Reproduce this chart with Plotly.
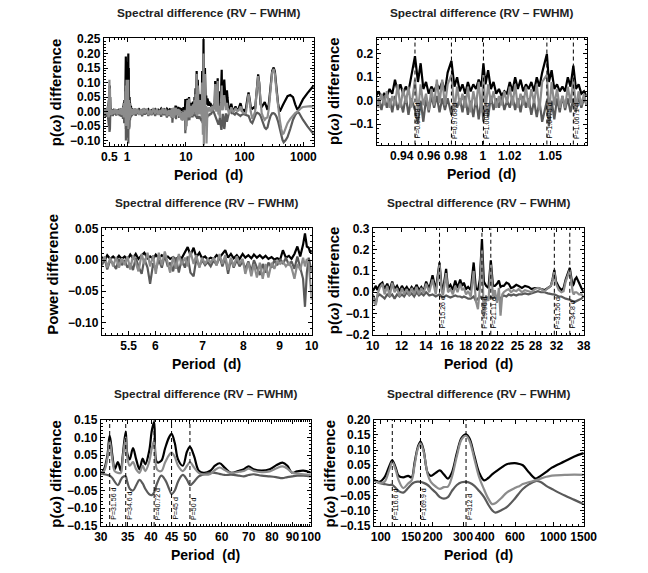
import numpy as np
import plotly.graph_objects as go

W, H = 648, 573
FONT = "Liberation Sans, Arial, sans-serif"
BLACK, DARK, GRAY = "#000000", "#5a5a5a", "#8c8c8c"

# ---------------- data ----------------
# top-right panel: zoom around 1 d (linear axis)
p2_period = [0.921, 0.923, 0.925, 0.927, 0.929, 0.931, 0.933, 0.935, 0.937, 0.939,
             0.941, 0.943, 0.945, 0.947, 0.9498, 0.952, 0.954, 0.956, 0.958, 0.960,
             0.962, 0.964, 0.966, 0.968, 0.970, 0.972, 0.974, 0.9768, 0.979, 0.981,
             0.983, 0.985, 0.987, 0.989, 0.991, 0.993, 0.995, 0.997, 0.999, 1.0005,
             1.002, 1.004, 1.006, 1.008, 1.010, 1.012, 1.014, 1.016, 1.018, 1.020,
             1.022, 1.024, 1.026, 1.028, 1.030, 1.032, 1.034, 1.036, 1.038, 1.040,
             1.042, 1.044, 1.0475, 1.049, 1.051, 1.053, 1.055, 1.057, 1.059, 1.061,
             1.063, 1.065, 1.0671, 1.069, 1.071, 1.073, 1.075, 1.077]
p2_black = [0.02, 0.04, 0.01, 0.03, 0.02, 0.05, 0.03, 0.09, 0.04, 0.07,
            0.03, 0.06, 0.04, 0.10, 0.19, 0.08, 0.16, 0.05, 0.08, 0.03,
            0.06, 0.04, 0.07, 0.05, 0.08, 0.04, 0.12, 0.17, 0.06, 0.10,
            0.04, 0.07, 0.03, 0.08, 0.04, 0.07, 0.05, 0.09, 0.06, 0.16,
            0.07, 0.13, 0.05, 0.08, 0.03, 0.05, 0.02, 0.04, 0.03, 0.08,
            0.04, 0.10, 0.05, 0.09, 0.04, 0.07, 0.05, 0.08, 0.04, 0.10,
            0.06, 0.12, 0.20, 0.08, 0.13, 0.05, 0.07, 0.04, 0.06, 0.04,
            0.10, 0.06, 0.15, 0.05, 0.07, 0.03, 0.04, 0.02]
p2_gray = [0.02, -0.03, 0.03, -0.02, 0.04, -0.03, 0.02, -0.02, 0.07, -0.03,
           0.05, -0.01, 0.06, -0.03, 0.09, -0.05, 0.07, -0.02, 0.03, -0.04,
           0.05, -0.02, 0.09, -0.01, 0.09, -0.02, 0.07, 0.11, -0.04, 0.06,
           -0.02, 0.03, -0.03, 0.06, -0.05, 0.04, -0.02, 0.08, -0.05, 0.11,
           -0.04, 0.07, -0.01, 0.04, -0.03, 0.02, -0.02, 0.04, -0.01, 0.06,
           -0.02, 0.07, -0.03, 0.03, -0.02, 0.06, -0.03, 0.05, -0.01, 0.07,
           -0.04, 0.08, 0.11, -0.06, 0.08, -0.02, 0.05, -0.03, 0.02, -0.03,
           0.06, -0.01, 0.09, -0.03, 0.04, -0.02, 0.03, -0.02]
p2_dark = [-0.03, 0.01, -0.04, 0.02, -0.03, 0.01, -0.05, 0.02, -0.04, 0.00,
           -0.05, 0.02, -0.06, 0.01, -0.04, -0.10, 0.00, -0.09, 0.01, -0.05,
           0.02, -0.03, 0.02, -0.05, 0.01, -0.04, 0.01, -0.06, 0.00, -0.03,
           0.01, -0.05, 0.02, -0.06, 0.00, -0.07, 0.01, -0.08, 0.01, -0.09,
           0.00, -0.07, 0.02, -0.04, 0.01, -0.03, 0.02, -0.04, 0.00, -0.03,
           0.02, -0.04, 0.01, -0.05, 0.02, -0.03, 0.01, -0.06, 0.00, -0.07,
           0.00, -0.09, 0.00, -0.11, 0.00, -0.08, 0.01, -0.05, 0.02, -0.04,
           0.01, -0.05, 0.01, -0.05, 0.02, -0.03, 0.01, -0.02]
p2_marks = [0.9498, 0.9768, 1.0005, 1.0475, 1.0671]
p2_mark_text = ["P=0.9498 d", "P=0.9768 d", "P=1.0005 d", "P=1.0475 d", "P=1.0671 d"]

# middle-left panel: 5-10 d
p3_period = [5.04, 5.09, 5.13, 5.18, 5.23, 5.28, 5.33, 5.38, 5.43, 5.48,
             5.53, 5.58, 5.63, 5.68, 5.74, 5.79, 5.85, 5.90, 5.96, 6.01,
             6.07, 6.13, 6.19, 6.25, 6.30, 6.36, 6.42, 6.48, 6.54, 6.61,
             6.67, 6.73, 6.80, 6.86, 6.93, 6.99, 7.06, 7.12, 7.19, 7.26,
             7.33, 7.40, 7.47, 7.54, 7.61, 7.68, 7.75, 7.83, 7.90, 7.98,
             8.05, 8.13, 8.21, 8.28, 8.36, 8.44, 8.52, 8.60, 8.68, 8.77,
             8.85, 8.93, 9.02, 9.10, 9.19, 9.28, 9.36, 9.45, 9.54, 9.63,
             9.72, 9.78, 9.84, 9.90, 9.95, 10.0]
p3_black = [0.005, 0.000, 0.008, 0.002, 0.006, 0.001, 0.007, 0.002, 0.006, 0.001,
            0.009, 0.003, 0.010, 0.002, 0.008, 0.012, 0.003, 0.006, 0.002, 0.009,
            0.003, 0.008, 0.004, 0.006, 0.002, 0.005, 0.001, 0.006, 0.003, 0.012,
            0.021, 0.008, 0.020, 0.005, 0.012, 0.003, 0.006, 0.001, 0.004, 0.002,
            0.008, 0.004, 0.011, 0.016, 0.004, 0.010, 0.003, 0.008, 0.002, 0.010,
            0.004, 0.008, 0.003, 0.009, 0.004, 0.008, 0.003, 0.007, 0.002, 0.005,
            0.001, 0.003, 0.001, 0.016, 0.004, 0.007, 0.002, 0.010, 0.022, 0.006,
            0.025, 0.043, 0.022, 0.020, 0.012, 0.016]
p3_gray = [-0.003, 0.006, -0.012, 0.004, -0.010, 0.005, -0.012, 0.003, -0.008, 0.006,
           -0.015, 0.008, -0.004, -0.018, 0.010, -0.006, 0.012, -0.010, 0.008, -0.022,
           0.012, -0.008, 0.014, -0.004, -0.020, 0.006, -0.014, 0.010, -0.008, 0.004,
           -0.010, 0.014, -0.006, 0.008, -0.012, 0.004, -0.006, 0.002, -0.004, 0.004,
           -0.008, 0.010, -0.006, 0.008, -0.016, 0.004, -0.010, 0.006, -0.006, 0.002,
           -0.022, -0.004, -0.026, -0.006, -0.028, -0.004, -0.030, -0.006, -0.028, -0.004,
           -0.014, -0.002, -0.006, -0.002, -0.010, -0.004, -0.012, -0.030, -0.006, -0.016,
           0.004, -0.010, 0.002, -0.006, -0.030, -0.064]
p3_dark = [-0.008, 0.002, -0.015, 0.000, -0.006, -0.014, 0.002, -0.008, 0.000, -0.012,
           -0.005, -0.016, 0.004, -0.010, -0.022, 0.002, -0.012, -0.038, -0.005, -0.015,
           0.000, -0.012, 0.008, -0.010, -0.004, -0.018, 0.004, -0.020, 0.002, -0.012,
           0.006, -0.020, -0.026, 0.002, -0.010, 0.000, -0.008, -0.003, -0.010, 0.000,
           -0.008, 0.006, -0.010, 0.004, -0.022, 0.002, -0.012, 0.000, -0.010, -0.002,
           -0.014, -0.002, -0.018, 0.000, -0.012, -0.024, -0.006, -0.020, -0.004, -0.012,
           0.000, -0.008, 0.002, -0.006, 0.004, -0.008, -0.002, -0.014, 0.006, -0.010,
           -0.030, -0.075, -0.020, 0.004, -0.010, -0.020]

# middle-right panel: 10-38 d
p4_period = [10.0, 10.1, 10.2, 10.3, 10.45, 10.63, 10.78, 10.96, 11.13, 11.31,
             11.48, 11.66, 11.85, 12.03, 12.2, 12.4, 12.6, 12.79, 13.0, 13.19,
             13.4, 13.6, 13.8, 14.02, 14.3, 14.6, 14.9, 15.26, 15.45, 15.6,
             15.91, 16.1, 16.35, 16.6, 16.86, 17.1, 17.39, 17.6, 17.8, 18.05,
             18.29, 18.6, 18.94, 19.2, 19.46, 19.7, 19.96, 20.2, 20.49, 20.8,
             21.11, 21.4, 21.66, 21.95, 22.22, 22.45, 22.7, 22.92, 23.3, 23.64,
             24.0, 24.39, 24.8, 25.18, 25.7, 26.21, 26.8, 27.31, 27.9, 28.45,
             29.0, 29.65, 30.3, 30.88, 31.2, 31.56, 31.9, 32.46, 33.0, 33.46,
             33.9, 34.8, 35.2, 35.45, 35.7, 35.95, 36.31, 36.9, 37.46, 38.0]
p4_black = [0.005, 0.015, 0.030, 0.010, 0.035, 0.045, 0.015, 0.040, 0.010, 0.050,
            0.015, 0.030, 0.005, 0.030, 0.010, 0.025, 0.005, 0.025, 0.010, 0.035,
            0.010, 0.025, 0.005, 0.050, 0.015, 0.080, 0.010, 0.140, 0.030, 0.010,
            0.110, 0.020, 0.035, 0.010, 0.055, 0.020, 0.060, 0.030, 0.045, 0.015,
            0.025, 0.010, 0.140, 0.020, 0.010, 0.060, 0.250, 0.050, 0.030, 0.020,
            0.150, 0.030, 0.030, 0.040, 0.055, 0.025, 0.030, 0.030, 0.045, 0.040,
            0.020, 0.025, 0.035, 0.030, 0.020, 0.030, 0.025, 0.015, 0.020, 0.020,
            0.015, 0.010, 0.020, 0.030, 0.060, 0.105, 0.050, 0.025, 0.010, 0.020,
            0.060, 0.115, 0.060, 0.030, 0.040, 0.060, 0.070, 0.040, 0.020, 0.000]
p4_gray = [-0.02, -0.05, -0.06, -0.01, 0.02, 0.04, -0.01, 0.03, -0.02, 0.045,
           0.00, 0.02, -0.02, 0.02, -0.01, 0.015, -0.015, 0.02, -0.01, 0.025,
           -0.01, 0.02, -0.005, 0.04, 0.00, 0.06, -0.01, 0.13, 0.01, -0.015,
           0.09, 0.00, 0.015, -0.01, 0.03, 0.00, 0.04, 0.01, 0.02, -0.01,
           0.005, -0.02, 0.10, -0.04, -0.08, 0.02, 0.20, -0.12, -0.03, -0.04,
           0.13, -0.02, 0.01, -0.05, 0.02, -0.11, -0.01, 0.00, 0.01, 0.015,
           0.00, 0.01, 0.005, 0.015, 0.00, 0.01, 0.005, 0.00, 0.015, 0.02,
           0.015, 0.005, 0.02, 0.03, 0.055, 0.095, 0.04, 0.01, 0.00, 0.005,
           0.05, 0.105, 0.04, 0.00, -0.01, 0.00, 0.00, -0.01, -0.01, -0.02]
p4_dark = [-0.01, -0.03, -0.05, -0.02, -0.01, -0.02, -0.03, -0.01, -0.02, -0.01,
           -0.03, -0.01, -0.02, -0.01, -0.02, 0.00, -0.015, -0.005, -0.02, 0.00,
           -0.015, -0.005, -0.015, 0.00, -0.015, -0.01, -0.02, -0.01, -0.02, -0.025,
           -0.015, -0.02, -0.025, -0.02, -0.015, -0.02, -0.02, -0.025, -0.02, -0.025,
           -0.03, -0.03, -0.02, -0.04, -0.03, -0.02, -0.03, -0.04, -0.02, -0.03,
           -0.02, -0.03, -0.02, -0.03, -0.02, -0.03, -0.02, -0.015, -0.02, -0.01,
           -0.015, -0.01, -0.015, -0.01, -0.01, -0.005, -0.01, -0.005, 0.00, 0.005,
           0.00, 0.00, -0.005, -0.01, -0.01, -0.01, -0.015, -0.02, -0.02, -0.025,
           -0.03, -0.035, -0.04, -0.045, -0.045, -0.045, -0.04, -0.035, -0.03, -0.02]
p4_marks = [15.26, 19.96, 21.11, 31.56, 34.8]
p4_mark_text = ["P=15.26 d", "P=19.96 d", "P=21.11 d", "P=31.56 d", "P=34.8 d"]

# bottom-left panel: 30-100 d
p5_period = [30.0, 30.56, 31.13, 31.56, 32.06, 32.48, 33.08, 33.63, 34.0, 34.6,
             34.9, 35.4, 36.07, 36.74, 37.43, 38.13, 38.7, 39.56, 40.2, 40.72,
             41.4, 42.43, 43.38, 44.36, 45.0, 45.84, 46.7, 48.0, 49.17, 50.0,
             51.2, 52.6, 54.1, 56.2, 57.7, 59.3, 61.0, 63.3, 66.3, 68.1,
             70.0, 72.0, 75.4, 79.0, 81.9, 85.0, 87.4, 89.8, 92.4, 95.8, 100.0]
p5_black = [-0.003, 0.01, 0.047, 0.105, 0.047, 0.01, 0.03, 0.006, 0.047, 0.116,
            0.055, 0.038, 0.07, 0.038, 0.01, 0.04, 0.024, 0.06, 0.12, 0.144,
            0.03, 0.034, 0.07, 0.10, 0.11, 0.084, 0.038, 0.02, 0.06, 0.073,
            0.047, 0.006, 0.0, 0.006, 0.02, 0.027, 0.015, 0.0, 0.006, 0.01,
            0.018, 0.01, 0.006, 0.01, 0.021, 0.029, 0.02, 0.0, 0.004, 0.006, 0.001]
p5_gray = [0.0, 0.005, 0.04, 0.09, 0.035, 0.005, 0.0, 0.0, 0.04, 0.10,
           0.045, 0.02, 0.03, 0.01, 0.0, 0.02, 0.005, 0.03, 0.07, 0.09,
           0.01, 0.005, 0.03, 0.05, 0.057, 0.045, 0.02, 0.005, 0.02, 0.03,
           0.015, 0.0, -0.005, -0.003, 0.008, 0.015, 0.008, 0.0, 0.003, 0.005,
           0.012, 0.006, 0.002, 0.004, 0.012, 0.018, 0.012, 0.0, -0.002, -0.004, -0.006]
p5_dark = [-0.002, -0.004, -0.006, -0.008, -0.015, -0.025, -0.035, -0.02, -0.012, -0.01,
           -0.025, -0.045, -0.05, -0.035, -0.02, -0.03, -0.045, -0.06, -0.063, -0.055,
           -0.03, -0.008, -0.02, -0.045, -0.06, -0.05, -0.025, -0.006, -0.02, -0.035,
           -0.025, -0.01, -0.004, 0.0, 0.0, -0.003, -0.006, -0.005, -0.008, -0.01,
           -0.006, -0.004, -0.008, -0.01, -0.012, -0.015, -0.012, -0.01, -0.008, -0.008, -0.01]
p5_marks = [31.56, 34.6, 40.72, 45, 50]
p5_mark_text = ["P=31.56 d", "P=34.6 d", "P=40.72 d", "P=45 d", "P=50 d"]

# bottom-right panel: 90-1500 d
p6_period = [91, 98, 105, 112, 116.6, 122, 127, 135, 144, 151,
             157, 164, 169.9, 177, 187, 195, 208, 220, 232, 245,
             258, 276, 294, 312, 327, 349, 372, 397, 420, 442,
             462, 500, 537, 598, 638, 666, 726, 791, 844, 910,
             981, 1165, 1325, 1500]
p6_black = [0.003, -0.005, 0.01, 0.047, 0.066, 0.042, 0.015, 0.01, 0.015, 0.01,
            0.058, 0.11, 0.128, 0.10, 0.025, 0.015, 0.025, 0.033, 0.02, 0.006,
            0.025, 0.09, 0.14, 0.152, 0.138, 0.08, 0.025, 0.0, 0.008, 0.02,
            0.028, 0.042, 0.053, 0.057, 0.054, 0.05, 0.025, 0.006, 0.015, 0.028,
            0.042, 0.063, 0.079, 0.09]
p6_gray = [0.0, -0.008, -0.005, 0.035, 0.06, 0.035, 0.0, -0.025, -0.01, 0.0,
           0.05, 0.105, 0.122, 0.095, 0.02, -0.005, -0.02, -0.028, -0.022, -0.02,
           0.01, 0.08, 0.135, 0.147, 0.13, 0.07, 0.01, -0.03, -0.06, -0.078,
           -0.075, -0.058, -0.04, -0.025, -0.018, -0.012, -0.005, 0.0, 0.006, 0.012,
           0.016, 0.018, 0.019, 0.018]
p6_dark = [0.0, -0.008, -0.012, -0.015, -0.015, -0.025, -0.035, -0.04, -0.025, -0.012,
           -0.006, -0.004, -0.005, -0.008, -0.015, -0.025, -0.04, -0.055, -0.06, -0.055,
           -0.035, -0.015, -0.006, -0.005, -0.008, -0.018, -0.035, -0.055, -0.08, -0.098,
           -0.106, -0.098, -0.088, -0.06, -0.04, -0.028, -0.012, -0.002, -0.005, -0.018,
           -0.028, -0.05, -0.064, -0.078]
p6_marks = [116.6, 169.9, 312]
p6_mark_text = ["P=116.6 d", "P=169.9 d", "P=312 d"]

# extra stretches only seen in the full-range panel
p1a_period = [0.40, 0.41, 0.42, 0.43, 0.44, 0.45, 0.46, 0.47, 0.48, 0.49,
              0.495, 0.50, 0.505, 0.51, 0.515, 0.52, 0.53, 0.54, 0.55, 0.57,
              0.59, 0.61, 0.63, 0.65, 0.67, 0.70, 0.72, 0.75, 0.77, 0.80,
              0.82, 0.85, 0.87, 0.88, 0.89, 0.90, 0.91, 0.915]
p1a_black = [0.005, 0.0, 0.01, 0.002, 0.008, 0.0, 0.006, 0.01, 0.02, 0.04,
             0.07, 0.03, 0.09, 0.02, 0.05, 0.01, 0.008, 0.002, 0.006, 0.0,
             0.005, 0.002, 0.006, 0.0, 0.004, 0.002, 0.005, 0.0, 0.006, 0.002,
             0.008, 0.01, 0.02, 0.03, 0.01, 0.04, 0.02, 0.03]
p1a_gray = [-0.01, 0.01, -0.012, 0.008, -0.01, 0.012, -0.008, 0.02, -0.02, 0.05,
            0.0, 0.11, 0.02, 0.08, -0.01, 0.01, -0.012, 0.008, -0.01, 0.006,
            -0.008, 0.01, -0.006, 0.008, -0.01, 0.006, -0.008, 0.01, -0.01, 0.012,
            -0.012, 0.015, -0.02, -0.02, 0.03, -0.02, 0.02, -0.01]
p1a_dark = [0.0, -0.015, 0.005, -0.018, 0.004, -0.015, 0.0, -0.02, -0.03, -0.05,
            -0.02, -0.07, -0.03, -0.06, -0.02, -0.015, 0.002, -0.012, 0.0, -0.015,
            0.002, -0.01, 0.0, -0.014, 0.003, -0.012, 0.0, -0.015, 0.002, -0.018,
            0.0, -0.025, -0.01, -0.01, -0.04, 0.0, -0.03, -0.02]

p1d_period = [1.08, 1.09, 1.10, 1.11, 1.12, 1.14, 1.16, 1.18, 1.20, 1.25,
              1.3, 1.35, 1.4, 1.5, 1.6, 1.7, 1.8, 1.9, 2.0, 2.15,
              2.3, 2.45, 2.6, 2.8, 3.0, 3.2, 3.4, 3.6, 3.8, 4.0,
              4.25, 4.5, 4.75, 5.0]
p1d_black = [0.04, 0.02, 0.05, 0.01, 0.03, 0.01, 0.02, 0.005, 0.01, 0.0,
             0.008, 0.002, 0.006, 0.0, 0.008, 0.003, 0.006, 0.0, 0.007, 0.002,
             0.008, 0.0, 0.005, 0.002, 0.008, 0.0, 0.006, 0.002, 0.01, 0.003,
             0.008, 0.002, 0.01, 0.004]
p1d_gray = [-0.03, 0.03, -0.02, 0.03, -0.02, 0.015, -0.01, 0.01, -0.012, 0.008,
            -0.01, 0.012, -0.008, 0.01, -0.012, 0.008, -0.01, 0.012, -0.006, 0.01,
            -0.012, 0.008, -0.01, 0.012, -0.008, 0.01, -0.012, 0.006, -0.01, 0.012,
            -0.008, 0.01, -0.015, 0.006]
p1d_dark = [-0.06, -0.01, -0.05, 0.0, -0.03, -0.005, -0.02, 0.0, -0.015, 0.002,
            -0.012, 0.0, -0.014, 0.003, -0.01, 0.0, -0.016, 0.002, -0.01, 0.0,
            -0.015, 0.004, -0.012, 0.0, -0.015, 0.002, -0.01, 0.0, -0.018, 0.002,
            -0.012, 0.0, -0.02, -0.005]

# full range panel = the pieces glued together
keep5 = np.asarray(p5_period) > 38
keep6 = np.asarray(p6_period) > 100


def glue(a, two, d, three, four, five, six):
    return np.concatenate([np.asarray(a, float), np.asarray(two, float), np.asarray(d, float),
                           np.asarray(three, float), np.asarray(four, float),
                           np.asarray(five, float)[keep5], np.asarray(six, float)[keep6]])


p1_period = glue(p1a_period, p2_period, p1d_period, p3_period, p4_period, p5_period, p6_period)
p1_black = glue(p1a_black, p2_black, p1d_black, p3_black, p4_black, p5_black, p6_black)
p1_gray = glue(p1a_gray, p2_gray, p1d_gray, p3_gray, p4_gray, p5_gray, p6_gray)
p1_dark = glue(p1a_dark, p2_dark, p1d_dark, p3_dark, p4_dark, p5_dark, p6_dark)


def minus(vals, fmt):
    return [(fmt % v).replace("-", "\u2212") for v in vals]


fig = go.Figure()


def panel(n, box, xlog, xrange, yrange, xticks, yticks, yfmt, xminor, yminor,
          period, black, gray, dark, shape="linear"):
    sfx = "" if n == 1 else str(n)
    x0, x1, y0, y1 = box
    common = dict(ticks="inside", ticklen=4, tickwidth=1, tickcolor="black",
                  showline=True, linewidth=1, linecolor="black", mirror="allticks",
                  showgrid=False, zeroline=False,
                  tickfont=dict(family=FONT, size=12, color="black", weight="bold"))
    minor = dict(ticks="inside", ticklen=2, tickcolor="black", showgrid=False)
    xr = [np.log10(xrange[0]), np.log10(xrange[1])] if xlog else list(xrange)
    fig.update_layout({
        "xaxis" + sfx: dict(common, domain=[x0 / W, x1 / W], anchor="y" + sfx,
                            type="log" if xlog else "linear", range=xr, tickangle=0,
                            tickmode="array", tickvals=xticks,
                            ticktext=[("%g" % v) for v in xticks],
                            minor=dict(minor, tickmode="array", tickvals=xminor)),
        "yaxis" + sfx: dict(common, domain=[1 - y1 / H, 1 - y0 / H], anchor="x" + sfx,
                            range=list(yrange), tickmode="array", tickvals=yticks,
                            ticktext=minus(yticks, yfmt),
                            minor=dict(minor, tickmode="array", tickvals=yminor)),
    })
    for ys, col in ((black, BLACK), (dark, DARK), (gray, GRAY)):
        fig.add_trace(go.Scatter(x=period, y=ys, mode="lines", xaxis="x" + sfx, yaxis="y" + sfx,
                                 line=dict(color=col, width=2.2, shape=shape), hoverinfo="skip"))
    # titles
    cx = (x0 + x1) / 2 / W
    fig.add_annotation(xref="paper", yref="paper", x=cx, y=1 - (y0 - 26) / H,
                       text="Spectral difference (RV \u2013 FWHM)", showarrow=False,
                       xanchor="center", yanchor="middle",
                       font=dict(family=FONT, size=11.8, color="#222222", weight="bold"))
    fig.add_annotation(xref="paper", yref="paper", x=cx, y=1 - (y1 + 30) / H,
                       text="Period\u00a0 (d)", showarrow=False, xanchor="center", yanchor="middle",
                       font=dict(family=FONT, size=14, color="black", weight="bold"))


def marks(n, xlog, periods, texts):
    sfx = "" if n == 1 else str(n)
    for p, t in zip(periods, texts):
        fig.add_shape(type="line", xref="x" + sfx, yref="y" + sfx + " domain",
                      x0=p, x1=p, y0=0, y1=1,
                      line=dict(color="black", width=1, dash="4px,3px"))
        fig.add_annotation(xref="x" + sfx, yref="y" + sfx + " domain",
                           x=np.log10(p) if xlog else p, y=0, yshift=4, xshift=3,
                           text=t, textangle=-90, showarrow=False,
                           xanchor="center", yanchor="bottom",
                           font=dict(family=FONT, size=7, color="black"))


def ylabel(x, y, text):
    fig.add_annotation(xref="paper", yref="paper", x=x / W, y=1 - y / H, text=text,
                       textangle=-90, showarrow=False, xanchor="center", yanchor="middle",
                       font=dict(family=FONT, size=15, color="black", weight="bold"))


def steps(a, b, s):
    return [round(v, 4) for v in np.arange(a, b + s / 2, s)]


dec = lambda lo, hi: [m * 10 ** e for e in range(lo, hi) for m in range(2, 10)]

panel(1, (100, 317, 32, 142), True, (0.4, 1500), (-0.117, 0.253),
      [0.5, 1, 10, 100, 1000], steps(-0.10, 0.25, 0.05), "%.2f",
      [0.4, 0.6, 0.7, 0.8, 0.9] + dec(0, 3), steps(-0.11, 0.25, 0.01),
      p1_period, p1_black, p1_gray, p1_dark)
panel(2, (382, 599, 32, 141), False, (0.9214, 1.0769), (-0.1875, 0.267),
      [0.94, 0.96, 0.98, 1, 1.02, 1.05], [-0.1, 0.0, 0.1, 0.2], "%.1f",
      steps(0.925, 1.075, 0.005), steps(-0.18, 0.26, 0.02),
      p2_period, p2_black, p2_gray, p2_dark)
panel(3, (98, 315, 227, 336), True, (5.04, 10), (-0.12, 0.051),
      [5.5, 6, 7, 8, 9, 10], [-0.10, -0.05, 0.0, 0.05], "%.2f",
      steps(5.1, 9.9, 0.1), steps(-0.12, 0.05, 0.01),
      p3_period, p3_black, p3_gray, p3_dark)
panel(4, (378, 596, 227, 336), True, (10, 38), (-0.2, 0.3),
      [10, 12, 14, 16, 18, 20, 22, 25, 28, 32, 38], steps(-0.2, 0.3, 0.1), "%.1f",
      steps(11, 37, 1), steps(-0.18, 0.28, 0.02),
      p4_period, p4_black, p4_gray, p4_dark)
panel(5, (97, 314, 423, 532), True, (30, 100), (-0.15, 0.15),
      [30, 35, 40, 45, 50, 60, 70, 80, 90, 100], steps(-0.15, 0.15, 0.05), "%.2f",
      steps(31, 99, 1), steps(-0.14, 0.14, 0.01),
      p5_period, p5_black, p5_gray, p5_dark, shape="spline")
panel(6, (379, 596, 423, 532), True, (91, 1500), (-0.15, 0.20),
      [100, 150, 200, 300, 400, 600, 1000, 1500], steps(-0.15, 0.20, 0.05), "%.2f",
      [110, 120, 130, 140, 160, 170, 180, 190, 250, 350, 450, 500, 700, 800, 900,
       1100, 1200, 1300, 1400], steps(-0.14, 0.19, 0.01),
      p6_period, p6_black, p6_gray, p6_dark, shape="spline")

marks(2, False, p2_marks, p2_mark_text)
marks(4, True, p4_marks, p4_mark_text)
marks(5, True, p5_marks, p5_mark_text)
marks(6, True, p6_marks, p6_mark_text)

ylabel(50, 87, "p(<i>\u03c9</i>) difference")
ylabel(338, 86, "p(<i>\u03c9</i>) difference")
ylabel(47, 274, "Power difference")
ylabel(337, 280, "p(<i>\u03c9</i>) difference")
ylabel(50, 478, "p(<i>\u03c9</i>) difference")
ylabel(333, 478, "p(<i>\u03c9</i>) difference")

fig.update_layout(width=W, height=H, margin=dict(l=0, r=0, t=0, b=0),
                  paper_bgcolor="white", plot_bgcolor="white", showlegend=False)

# the page's default body margin would push the 648x573 figure off the window
fig.write_html("out.html", config={"displayModeBar": False},
               post_script="document.body.style.margin='0px';")
